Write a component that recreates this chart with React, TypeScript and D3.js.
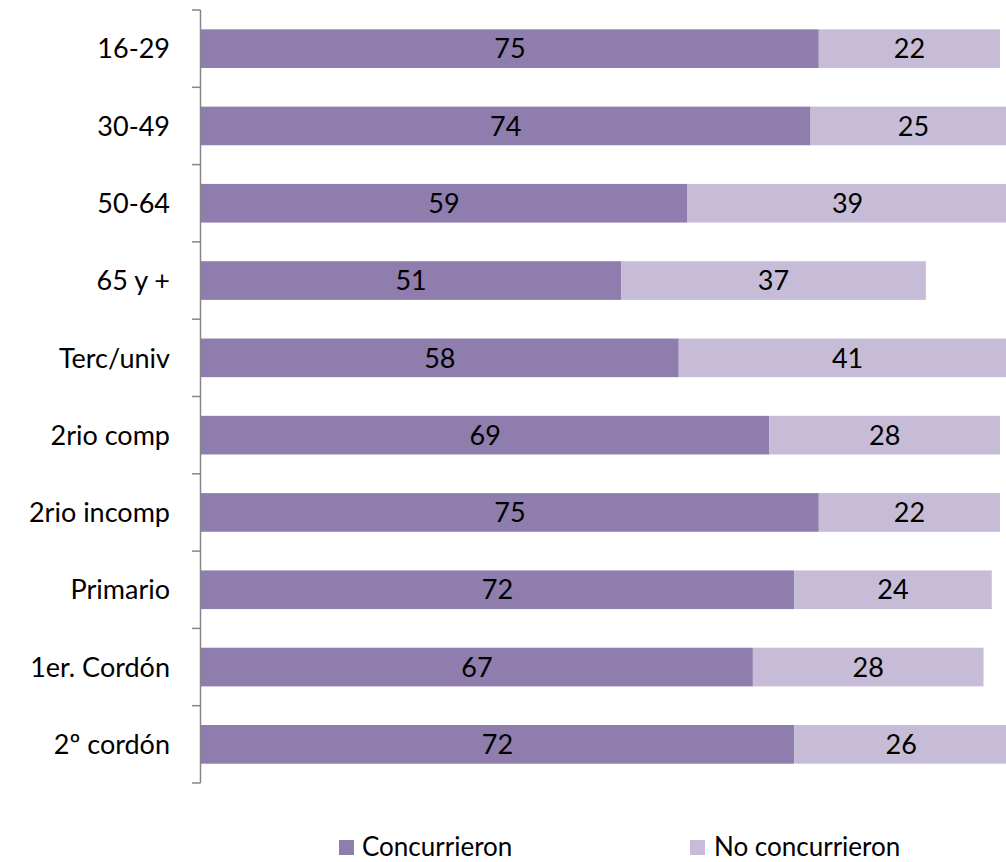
import React from "react";
import * as d3 from "d3";

const categories = ["16-29", "30-49", "50-64", "65 y +", "Terc/univ", "2rio comp", "2rio incomp", "Primario", "1er. Cordón", "2º cordón"];
const concurrieron = [75, 74, 59, 51, 58, 69, 75, 72, 67, 72];
const noConcurrieron = [22, 25, 39, 37, 41, 28, 22, 24, 28, 26];
const seriesNames = ["Concurrieron", "No concurrieron"];
const colors = ["#8e7dad", "#c6bcd8"];

const W = 1006, H = 862;
const left = 201, top = 10, bottom = 783;
const font = "Lato, 'Open Sans', sans-serif";
const fs = 27;

export default function App() {
  const x = d3.scaleLinear().domain([0, 97]).range([left, 1000]);
  const y = d3.scaleBand<string>().domain(categories).range([top, bottom]).paddingInner(0.5).paddingOuter(0.25);
  const step = y.step();
  const tickYs = d3.range(categories.length + 1).map(i => top + i * step);
  const data = categories.map((c, i) => ({ c, a: concurrieron[i], b: noConcurrieron[i] }));
  return (
    <svg width={W} height={H} style={{ position: "absolute", left: 0, top: 0 }} fontFamily={font}>
      <rect width={W} height={H} fill="#fff" />
      {data.map(d => {
        const y0 = y(d.c)!;
        const h = y.bandwidth();
        return (
          <g key={d.c}>
            <rect x={x(0)} y={y0} width={x(d.a) - x(0)} height={h} fill={colors[0]} />
            <rect x={x(d.a)} y={y0} width={x(d.a + d.b) - x(d.a)} height={h} fill={colors[1]} />
            <text x={(x(0) + x(d.a)) / 2} y={y0 + h / 2} dy="0.36em" textAnchor="middle" fontSize={fs} fill="#000">{d.a}</text>
            <text x={(x(d.a) + x(d.a + d.b)) / 2} y={y0 + h / 2} dy="0.36em" textAnchor="middle" fontSize={fs} fill="#000">{d.b}</text>
            <text x={170} y={y0 + h / 2} dy="0.36em" textAnchor="end" fontSize={fs} fill="#000">{d.c}</text>
          </g>
        );
      })}
      <line x1={left - 0.5} x2={left - 0.5} y1={top} y2={bottom} stroke="#868686" strokeWidth={1.5} />
      {tickYs.map((t, i) => (
        <line key={i} x1={left - 9} x2={left - 0.5} y1={t} y2={t} stroke="#868686" strokeWidth={1.5} />
      ))}
      <g>
        <rect x={339} y={840} width={15} height={15} fill={colors[0]} />
        <text x={362} y={856} fontSize={26} fill="#000">{seriesNames[0]}</text>
        <rect x={690} y={840} width={15} height={15} fill={colors[1]} />
        <text x={714} y={856} fontSize={26} fill="#000">{seriesNames[1]}</text>
      </g>
    </svg>
  );
}
